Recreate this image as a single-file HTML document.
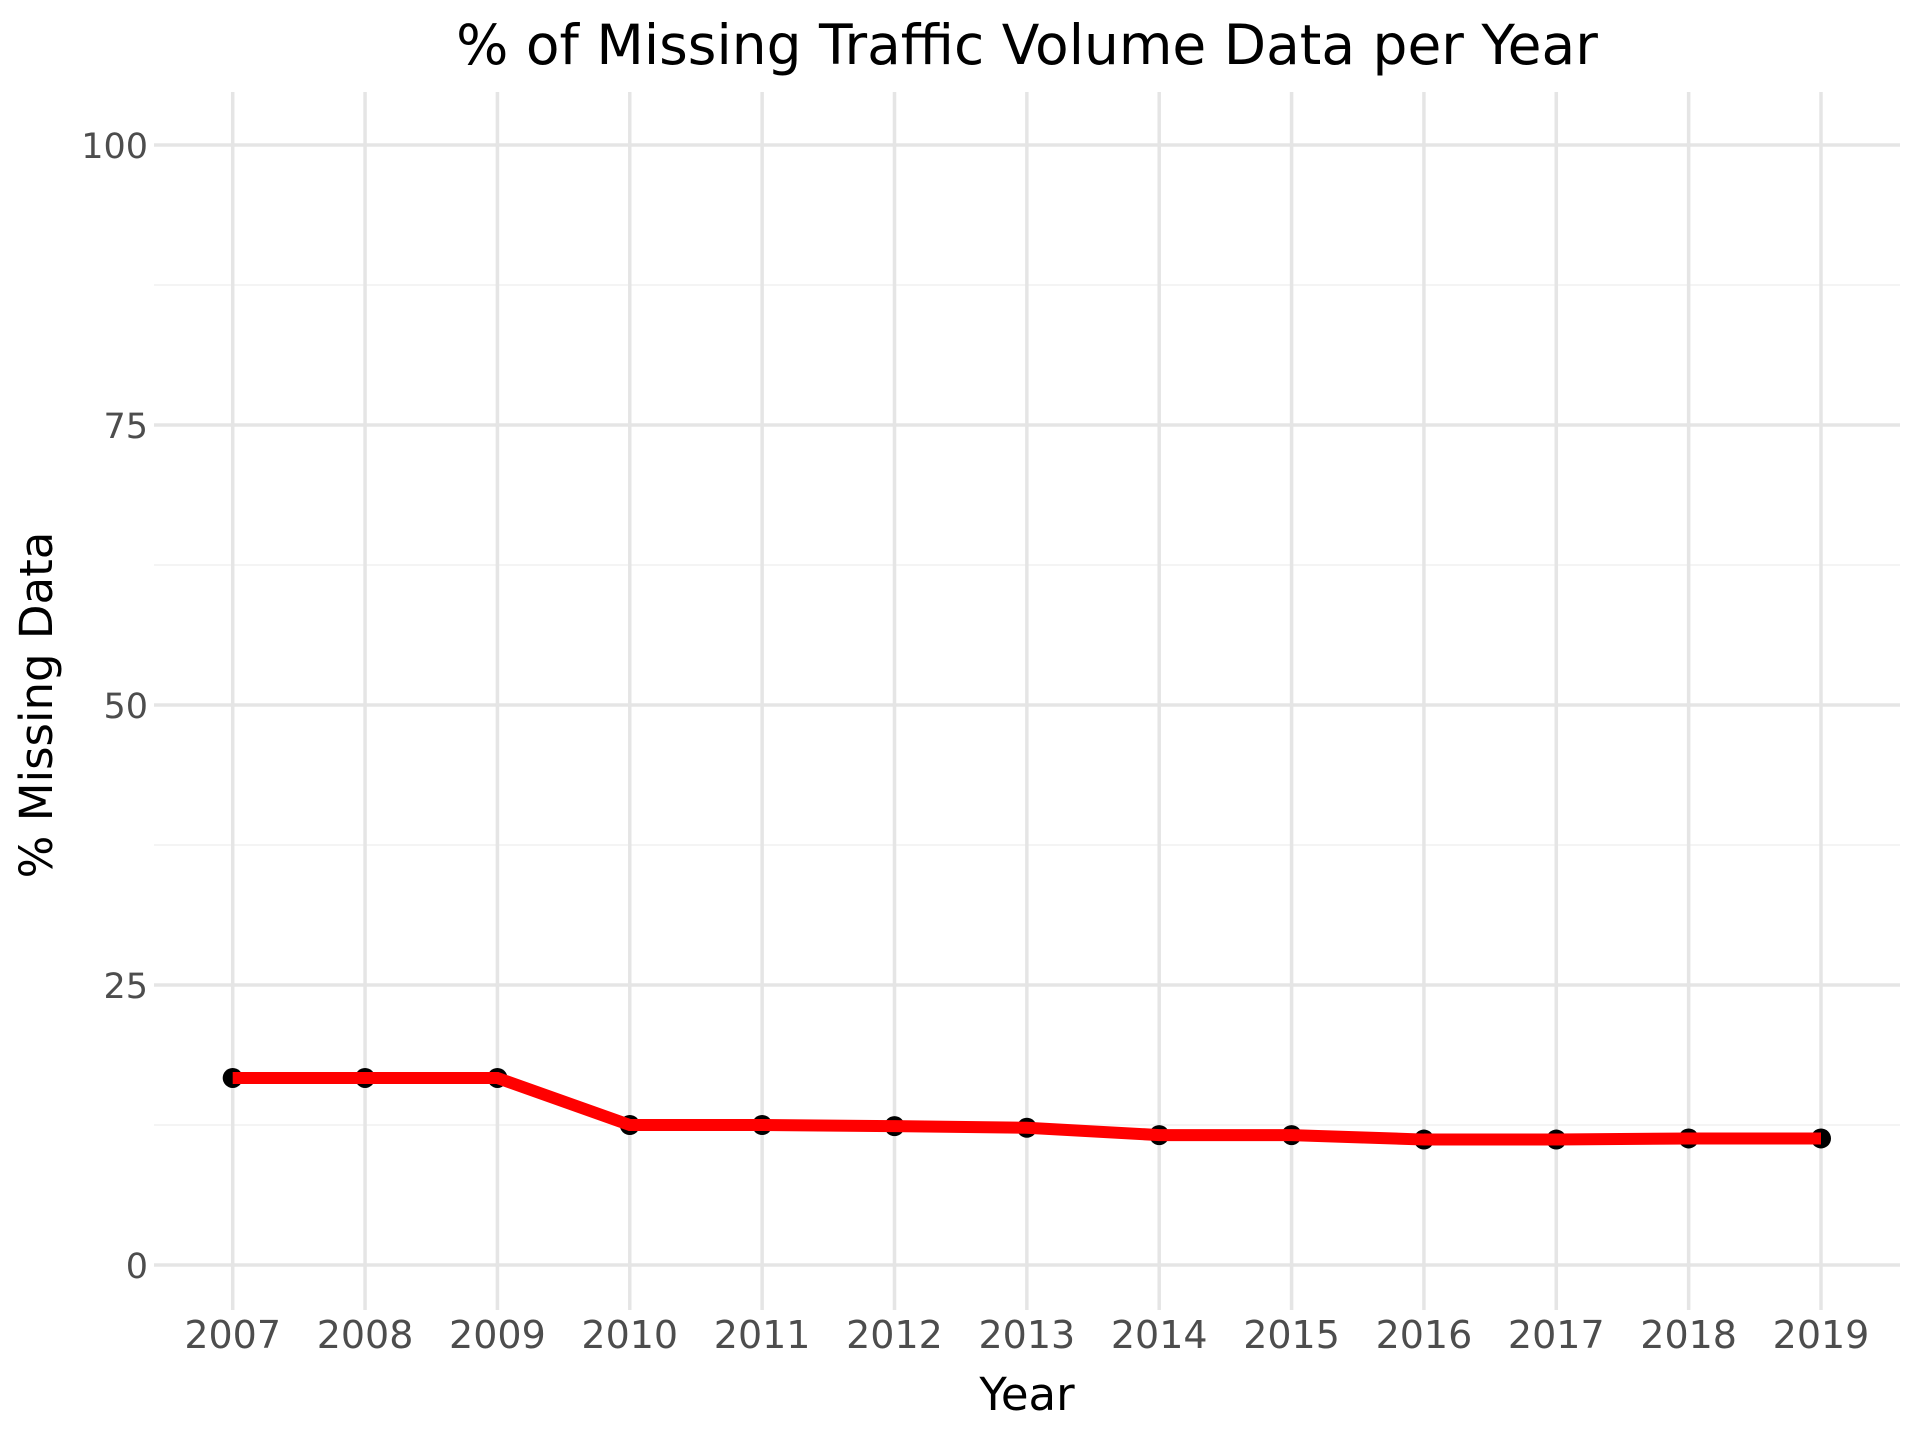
<!DOCTYPE html>
<html><head><meta charset="utf-8"><style>
body{margin:0;background:#fff}
svg{display:block;font-family:"DejaVu Sans","Liberation Sans",sans-serif}
</style></head><body>
<svg id="chart" width="1920" height="1440" viewBox="0 0 1920 1440" xmlns="http://www.w3.org/2000/svg">
<rect width="1920" height="1440" fill="#fff"/>
<g id="grid"></g>
<g id="ticks"></g>
<g id="series"></g>
<text x="1027" y="64" font-size="55" text-anchor="middle" fill="#000">% of Missing Traffic Volume Data per Year</text>
<text x="1027" y="1410" font-size="45" text-anchor="middle" fill="#000">Year</text>
<text transform="translate(52,705) rotate(-90)" font-size="45" text-anchor="middle" fill="#000">% Missing Data</text>
</svg>
<script>
const years=[2007,2008,2009,2010,2011,2012,2013,2014,2015,2016,2017,2018,2019];
const missing=[16.7,16.7,16.7,12.5,12.5,12.4,12.25,11.6,11.6,11.2,11.2,11.3,11.3];
const yTicks=[0,25,50,75,100];
const yMinor=[12.5,37.5,62.5,87.5];
const NS="http://www.w3.org/2000/svg";
const px0=154,px1=1900;
function xs(i){return 232.7+i*(1821-232.7)/(years.length-1);}
function ys(v){return 1265-v*11.2;}
function mk(t,a,p){const e=document.createElementNS(NS,t);for(const k in a)e.setAttribute(k,a[k]);p.appendChild(e);return e;}
const grid=document.getElementById('grid'),ticks=document.getElementById('ticks'),series=document.getElementById('series');
const plotTop=92,plotBot=1310;
yMinor.forEach(v=>{const l=mk('line',{x1:px0,x2:px1,y1:ys(v),y2:ys(v),stroke:'#f4f4f4','stroke-width':2},grid);

});
yTicks.forEach(v=>{const l=mk('line',{x1:px0,x2:px1,y1:ys(v),y2:ys(v),stroke:'#e5e5e5','stroke-width':3.5},grid);


const t=mk('text',{x:148,y:ys(v)+13,'font-size':35,'text-anchor':'end',fill:'#4d4d4d'},ticks);t.textContent=v;

});
years.forEach((y,i)=>{const l=mk('line',{x1:xs(i),x2:xs(i),y1:plotTop,y2:plotBot,stroke:'#e5e5e5','stroke-width':3.5},grid);


const t=mk('text',{x:xs(i),y:1348,'font-size':38,'text-anchor':'middle',fill:'#4d4d4d'},ticks);t.textContent=y;

});
years.forEach((y,i)=>{const c=mk('circle',{cx:xs(i),cy:ys(missing[i]),r:10,fill:'#000'},series);

});
const pl=mk('polyline',{points:missing.map((v,i)=>xs(i)+','+ys(v)).join(' '),fill:'none',stroke:'#ff0000','stroke-width':12},series);


</script>
</body></html>
